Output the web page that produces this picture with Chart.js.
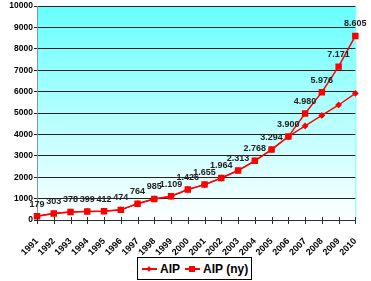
<!DOCTYPE html>
<html>
<head>
<meta charset="utf-8">
<script src="https://cdn.jsdelivr.net/npm/chart.js@4"></script>
<style>
  html, body { margin: 0; padding: 0; background: #fff; }
  #wrap { position: relative; width: 371px; height: 281px; }
  #legend {
    position: absolute; left: 137px; top: 257px; height: 23px;
    border: 1px solid #000; box-sizing: border-box; background: #fff;
    font: bold 12px Arial, "Liberation Sans", sans-serif; color: #000;
    display: flex; align-items: center; padding: 0 3px 0 4px; white-space: nowrap;
  }
  .item { display: flex; align-items: center; }
  .item + .item { margin-left: 5px; }
  .mark { position: relative; width: 15px; height: 10px; margin-right: 3px; }
  .mark .ln { position: absolute; left: 0; right: 0; top: 4px; height: 2px; background: #ff0000; }
  .mark .pt { position: absolute; background: #ff0000; }
  .dia { left: 5px; top: 3px; width: 4px; height: 4px; transform: rotate(45deg); }
  .sq { left: 4px; top: 2px; width: 6px; height: 6px; }
</style>
</head>
<body>
<div id="wrap">
  <canvas id="c" width="371" height="281"></canvas>
  <div id="legend">
    <div class="item"><span class="mark"><span class="ln"></span><span class="pt dia"></span></span>AIP</div>
    <div class="item"><span class="mark"><span class="ln"></span><span class="pt sq"></span></span>AIP (ny)</div>
  </div>
</div>
<script>
// ---------- DATA ----------
const years = ["1991","1992","1993","1994","1995","1996","1997","1998","1999","2000",
               "2001","2002","2003","2004","2005","2006","2007","2008","2009","2010"];
const aip   = [179, 303, 378, 399, 412, 474, 764, 985, 1109, 1426,
               1655, 1964, 2313, 2768, 3294, 3900, 4400, 4890, 5380, 5920];
const aipNy = [179, 303, 378, 399, 412, 474, 764, 985, 1109, 1426,
               1655, 1964, 2313, 2768, 3294, 3900, 4980, 5976, 7171, 8605];
const yTicks = [0, 1000, 2000, 3000, 4000, 5000, 6000, 7000, 8000, 9000, 10000];

const FONT = "Arial, 'Liberation Sans', sans-serif";
const fmt = v => String(v).replace(/\B(?=(\d{3})+(?!\d))/g, ".");

// gradient plot background + frame + crossing x ticks
const plotBg = {
  id: "plotBg",
  beforeDraw(chart) {
    const { ctx, chartArea: a } = chart;
    const g = ctx.createLinearGradient(0, a.top, 0, a.bottom);
    g.addColorStop(0, "#66ffff");
    g.addColorStop(1, "#ffffff");
    ctx.save();
    ctx.fillStyle = g;
    ctx.fillRect(a.left, a.top, a.right - a.left, a.bottom - a.top);
    ctx.strokeStyle = "#66ffff";
    ctx.lineWidth = 1;
    ctx.beginPath();
    ctx.moveTo(a.right + 0.5, a.top);
    ctx.lineTo(a.right + 0.5, a.bottom);
    ctx.stroke();
    ctx.restore();
  },
  afterDraw(chart) {
    const { ctx, chartArea: a, scales } = chart;
    ctx.save();
    ctx.strokeStyle = "#223333";
    ctx.lineWidth = 1;
    ctx.beginPath();
    years.forEach((y, i) => {
      const x = Math.round(scales.x.getPixelForValue(i)) + 0.5;
      ctx.moveTo(x, a.bottom - 3);
      ctx.lineTo(x, a.bottom + 4);
    });
    ctx.stroke();
    ctx.restore();
  }
};

// value labels above AIP (ny) points
const valueLabels = {
  id: "valueLabels",
  afterDatasetsDraw(chart) {
    const { ctx } = chart;
    const meta = chart.getDatasetMeta(1);
    ctx.save();
    ctx.font = "bold 9px " + FONT;
    ctx.fillStyle = "#222";
    ctx.textAlign = "center";
    ctx.textBaseline = "middle";
    meta.data.forEach((p, i) => {
      ctx.fillText(fmt(aipNy[i]), p.x, p.y - 12);
    });
    ctx.restore();
  }
};

new Chart(document.getElementById("c"), {
  type: "line",
  data: {
    labels: years,
    datasets: [
      { label: "AIP", data: aip, borderColor: "#ff0000", backgroundColor: "#ff0000",
        borderWidth: 1.3, pointStyle: "rectRot", pointRadius: 2.5, tension: 0 },
      { label: "AIP (ny)", data: aipNy, borderColor: "#ff0000", backgroundColor: "#ff0000",
        borderWidth: 1.5, pointStyle: "rect", pointRadius: 3.5, tension: 0 }
    ]
  },
  options: {
    responsive: false,
    animation: false,
    layout: { padding: { top: 6, right: 10, left: 0, bottom: 0 } },
    plugins: { legend: { display: false }, tooltip: { enabled: false } },
    scales: {
      x: {
        offset: false,
        grid: { display: false },
        border: { color: "#223333" },
        ticks: { color: "#000", font: { family: FONT, size: 9, weight: "bold" },
                 minRotation: 45, maxRotation: 45, padding: 8, autoSkip: false },
        afterFit(s) { s.height = 61; }
      },
      y: {
        min: 0, max: 10000,
        afterBuildTicks(s) { s.ticks = yTicks.map(v => ({ value: v })); },
        grid: { color: "#222", tickLength: 3 },
        border: { color: "#7a9a9a" },
        ticks: { color: "#000", font: { family: FONT, size: 8.5, weight: "bold" },
                 padding: 1, callback: v => String(v) },
        afterFit(s) { s.width = 37; }
      }
    }
  },
  plugins: [plotBg, valueLabels]
});
</script>
</body>
</html>
